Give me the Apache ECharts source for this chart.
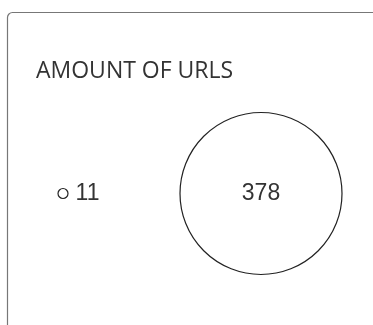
<!DOCTYPE html>
<html>
<head>
<meta charset="utf-8">
<style>
  html, body { margin: 0; padding: 0; background: #fff; }
  #chart { width: 373px; height: 325px; }
</style>
<script src="https://cdn.jsdelivr.net/npm/echarts@6/dist/echarts.min.js"></script>
</head>
<body>
<div id="chart"></div>
<script>
// Amount of URLs per group, drawn as bubbles sized by their count
const titleText = 'AMOUNT OF URLS';
const categories = ['A', 'B'];
const urlCounts = [11, 378];

const chart = echarts.init(document.getElementById('chart'), null, { renderer: 'canvas' });

chart.setOption({
  animation: false,
  backgroundColor: '#fff',
  title: {
    text: titleText,
    left: 31,
    top: 55,
    textStyle: {
      fontFamily: 'Open Sans',
      fontWeight: 'normal',
      fontSize: 23,
      color: '#333'
    }
  },
  graphic: [{
    type: 'rect',
    silent: true,
    shape: { x: 7.5, y: 12.5, width: 420, height: 400, r: 5 },
    style: { fill: 'none', stroke: '#777', lineWidth: 1.2 }
  }],
  grid: { left: 63, right: 112, top: 160, bottom: 98 },
  xAxis: {
    type: 'category',
    data: categories,
    boundaryGap: false,
    show: false
  },
  yAxis: { type: 'value', min: -1, max: 1, show: false },
  visualMap: {
    show: false,
    dimension: 2,
    min: Math.min(...urlCounts),
    max: Math.max(...urlCounts),
    inRange: { symbolSize: [10, 162] }
  },
  series: [{
    type: 'scatter',
    symbol: 'circle',
    // Small bubbles carry their count beside them, large ones inside
    data: categories.map((c, i) => ({
      value: [i, 0, urlCounts[i]],
      label: urlCounts[i] < 50
        ? { position: 'right', distance: 7 }
        : { position: 'inside' }
    })),
    itemStyle: { color: 'rgba(255,255,255,0)', borderColor: '#222', borderWidth: 1.2, opacity: 1 },
    label: {
      show: true,
      formatter: p => String(p.value[2]),
      fontFamily: 'Liberation Sans',
      fontSize: 23,
      color: '#333'
    },
    emphasis: { disabled: true }
  }]
});
</script>
</body>
</html>
